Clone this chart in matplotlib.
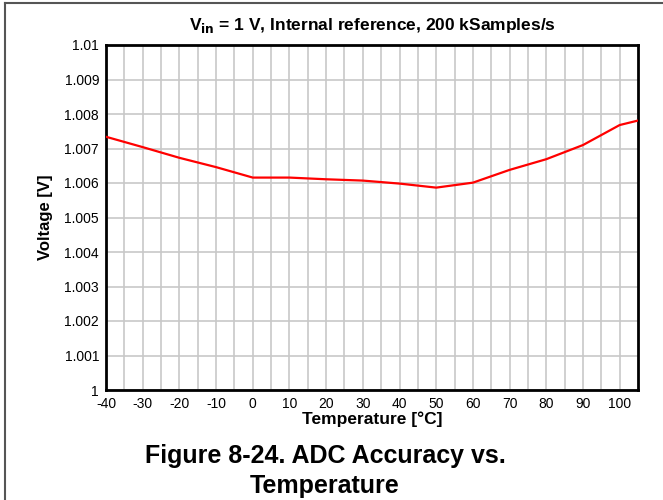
#!/usr/bin/env python3

import matplotlib.pyplot as plt
from matplotlib.lines import Line2D
import numpy as np

plt.rcParams['font.family'] = ['Liberation Sans', 'DejaVu Sans']
plt.rcParams['axes.unicode_minus'] = False

# data
temp = [-40, -30, -20, -10, 0, 10, 20, 30, 40, 50, 60, 70, 80, 90, 100, 105]
volts = [1.00734, 1.00704, 1.00673, 1.00646, 1.006157, 1.006157, 1.006108,
         1.00607, 1.005983, 1.005866, 1.00601, 1.00638, 1.00669, 1.0071,
         1.00768, 1.00781]

x_ticks = [-40, -30, -20, -10, 0, 10, 20, 30, 40, 50, 60, 70, 80, 90, 100]
y_ticks = [1.0, 1.001, 1.002, 1.003, 1.004, 1.005, 1.006, 1.007, 1.008, 1.009, 1.01]
y_labels = ['1', '1.001', '1.002', '1.003', '1.004', '1.005', '1.006',
            '1.007', '1.008', '1.009', '1.01']

fig = plt.figure(figsize=(6.63, 5.0), dpi=100)
ax = fig.add_axes([106 / 663, 1 - 390 / 500, (638 - 106) / 663, (390 - 45) / 500])

ax.plot(temp, volts, color='#ff0000', lw=1.6, zorder=3)

ax.set_xlim(-40, 105)
ax.set_ylim(1.0, 1.01)
ax.set_xticks(x_ticks)
ax.set_xticks(np.arange(-35, 105, 10), minor=True)
ax.set_yticks(y_ticks)
ax.set_yticklabels(y_labels)
ax.grid(True, which='both', color='#c8c8c8', lw=1.2)
ax.tick_params(which='both', length=0, labelsize=10, pad=5)
for s in ax.spines.values():
    s.set_linewidth(2)
    s.set_color('black')

ax.set_xlabel('Temperature [°C]', fontsize=12.5, fontweight='bold', labelpad=0)
ax.set_ylabel('Voltage [V]', fontsize=12, fontweight='bold', labelpad=8)
ax.set_title('V$_{\\mathbf{in}}$ = 1 V, Internal reference, 200 kSamples/s',
             fontsize=12.5, fontweight='bold', pad=11)

fig.text(325 / 663, 1 - 456 / 500, 'Figure 8-24. ADC Accuracy vs.', ha='center', va='center',
         fontsize=18, fontweight='bold')
fig.text(325 / 663, 1 - 486 / 500, 'Temperature', ha='center', va='center',
         fontsize=18, fontweight='bold')

# page frame on the left and top
fig.add_artist(Line2D([5 / 663, 5 / 663], [0, 1 - 3 / 500], transform=fig.transFigure,
                      color='#555555', lw=1.5))
fig.add_artist(Line2D([5 / 663, 1], [1 - 3 / 500, 1 - 3 / 500], transform=fig.transFigure,
                      color='#555555', lw=1.5))

plt.savefig('out.png', dpi=100)
